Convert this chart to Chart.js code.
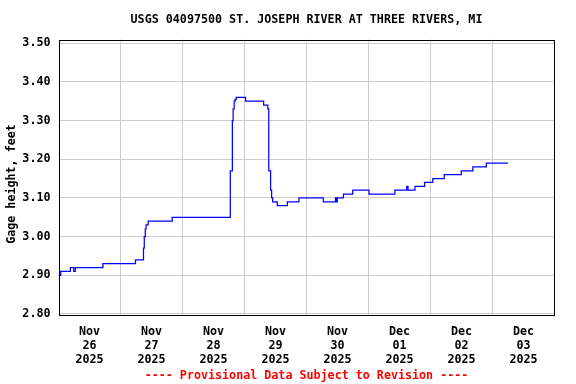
<!DOCTYPE html>
<html>
<head>
<meta charset="utf-8">
<script src="https://cdn.jsdelivr.net/npm/chart.js@4"></script>
<style>
html,body{margin:0;padding:0;background:#fff;}
canvas{display:block;}
</style>
</head>
<body>
<canvas id="c" width="576" height="384"></canvas>
<script>
// Hours since 2025-11-26 00:00 where the gage height changes, and the new value
const changeHours = [0, 0.85, 4.6, 5.9, 6.5, 17.2, 29.8, 32.9, 33.2, 33.6, 33.9, 34.7, 44.0,
  66.5, 67.3, 67.6, 68.0, 68.4, 68.8, 72.4, 79.4, 81.0, 81.4, 82.1, 82.5, 82.9, 84.7, 88.6, 93.1,
  102.5, 107.2, 107.5, 107.9, 110.3, 113.9, 120.2, 130.2, 134.8, 135.3, 138.0, 141.7, 144.9,
  149.3, 155.9, 160.4, 165.6, 174.0];
const gageFeet = [2.90, 2.91, 2.92, 2.91, 2.92, 2.93, 2.94, 2.97, 3.00, 3.02, 3.03, 3.04, 3.05,
  3.17, 3.30, 3.33, 3.35, 3.355, 3.36, 3.35, 3.34, 3.33, 3.17, 3.12, 3.10, 3.09, 3.08, 3.09, 3.10,
  3.09, 3.10, 3.09, 3.10, 3.11, 3.12, 3.11, 3.12, 3.13, 3.12, 3.13, 3.14, 3.15,
  3.16, 3.17, 3.18, 3.19, 3.19];
const dayMonths = ["Nov", "Nov", "Nov", "Nov", "Nov", "Dec", "Dec", "Dec"];
const dayNums = ["26", "27", "28", "29", "30", "01", "02", "03"];
const dayYears = ["2025", "2025", "2025", "2025", "2025", "2025", "2025", "2025"];
const yTicks = [2.80, 2.90, 3.00, 3.10, 3.20, 3.30, 3.40, 3.50];
const titleText = "USGS 04097500 ST. JOSEPH RIVER AT THREE RIVERS, MI";
const yTitleText = "Gage height, feet";
const footText = "---- Provisional Data Subject to Revision ----";

const FONT = '"DejaVu Sans Mono", "Liberation Mono", monospace';
const FSIZE = 11.7;
const points = changeHours.map((h, i) => ({x: h, y: gageFeet[i]}));

const textPlugin = {
  id: 'texts',
  afterDraw(chart) {
    const ctx = chart.ctx, a = chart.chartArea;
    ctx.save();
    ctx.strokeStyle = '#000';
    ctx.lineWidth = 1;
    ctx.strokeRect(Math.round(a.left) + 0.5, Math.round(a.top) + 0.5,
      Math.round(a.right) - Math.round(a.left) - 1, Math.round(a.bottom) - Math.round(a.top) - 1);
    ctx.font = 'bold ' + FSIZE + 'px ' + FONT;
    ctx.textAlign = 'center';
    ctx.textBaseline = 'middle';
    const cx = (a.left + a.right) / 2;
    ctx.fillStyle = '#000';
    ctx.fillText(titleText, cx, 20);
    ctx.fillStyle = '#ff0000';
    ctx.fillText(footText, cx, 376);
    ctx.fillStyle = '#000';
    ctx.translate(12, 184);
    ctx.rotate(-Math.PI / 2);
    ctx.fillText(yTitleText, 0, 0);
    ctx.restore();
  }
};

new Chart(document.getElementById('c'), {
  type: 'line',
  data: {
    datasets: [{
      data: points,
      borderColor: '#0000ff',
      borderWidth: 1.25,
      pointRadius: 0,
      stepped: true,
      fill: false
    }]
  },
  options: {
    responsive: false,
    devicePixelRatio: 1,
    animation: false,
    layout: {padding: {left: 0, right: 21.5, top: 39.5, bottom: 18.5}},
    plugins: {legend: {display: false}, tooltip: {enabled: false}},
    scales: {
      x: {
        type: 'linear',
        min: 0,
        max: 192,
        afterBuildTicks(axis) {
          const t = [];
          for (let i = 0; i <= 16; i++) t.push({value: i * 12});
          axis.ticks = t;
        },
        afterFit(axis) { axis.height = 50; },
        border: {display: false},
        grid: {
          drawTicks: false,
          lineWidth: 1,
          color(ctx) {
            const v = ctx.tick ? ctx.tick.value : 0;
            return (v % 24 === 0 && v > 0 && v < 192) ? '#cccccc' : 'rgba(0,0,0,0)';
          }
        },
        ticks: {
          autoSkip: false,
          maxRotation: 0,
          minRotation: 0,
          padding: 10,
          color: '#000',
          font: {family: FONT, size: FSIZE, weight: 'bold', lineHeight: 1.17},
          callback(v) {
            if (v % 24 !== 12) return '';
            const i = (v - 12) / 24;
            return [dayMonths[i], dayNums[i], dayYears[i]];
          }
        }
      },
      y: {
        type: 'linear',
        min: 2.796,
        max: 3.5096,
        afterBuildTicks(axis) { axis.ticks = yTicks.map(v => ({value: v})); },
        afterFit(axis) { axis.width = 58.5; },
        border: {display: false},
        grid: {drawTicks: false, color: '#cccccc', lineWidth: 1},
        ticks: {
          padding: 8,
          color: '#000',
          font: {family: FONT, size: FSIZE, weight: 'bold'},
          callback(v) { return Number(v).toFixed(2); }
        }
      }
    }
  },
  plugins: [textPlugin]
});
</script>
</body>
</html>
